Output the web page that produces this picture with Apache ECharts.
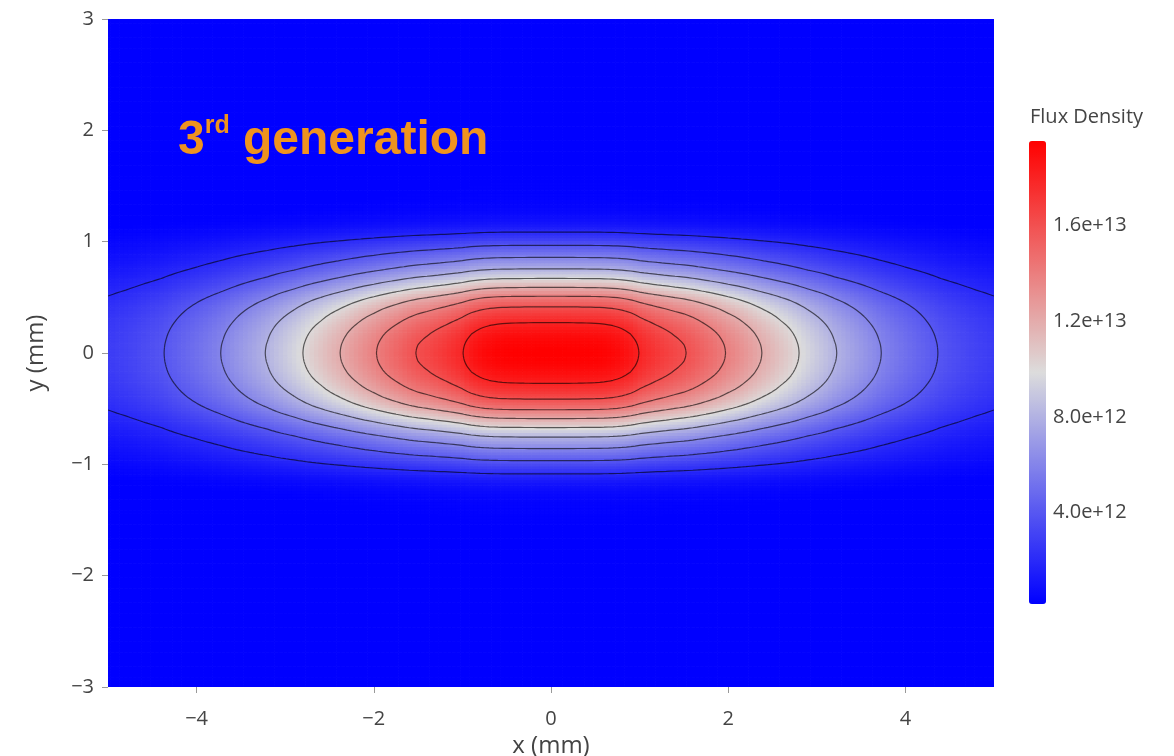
<!DOCTYPE html>
<html>
<head>
<meta charset="utf-8">
<script src="https://cdn.jsdelivr.net/npm/echarts@6/dist/echarts.min.js"></script>
<style>
  html, body { margin: 0; padding: 0; background: #ffffff; }
  #chart { width: 1174px; height: 756px; }
</style>
</head>
<body>
<div id="chart"></div>
<script>
// Flux density in the observation plane (units of 1e12).
// Horizontal cut through y = 0, for x = 0.00 ... 5.00 mm in 0.05 mm steps (symmetric about x = 0).
const fluxAlongX = [
  19.54, 19.54, 19.54, 19.535, 19.53, 19.525, 19.52, 19.51, 19.50, 19.48,
  19.46, 19.43, 19.38, 19.31, 19.22, 19.10, 18.95, 18.76, 18.55, 18.27,
  17.95, 17.71, 17.50, 17.30, 17.10, 16.92, 16.75, 16.57, 16.40, 16.25,
  16.10, 15.90, 15.70, 15.48, 15.25, 15.03, 14.80, 14.58, 14.35, 14.10,
  13.85, 13.63, 13.40, 13.15, 12.90, 12.65, 12.40, 12.15, 11.90, 11.68,
  11.45, 11.20, 10.95, 10.73, 10.50, 10.25, 10.00, 9.75, 9.50, 9.28,
  9.05, 8.83, 8.60, 8.35, 8.10, 7.90, 7.70, 7.50, 7.30, 7.10,
  6.90, 6.70, 6.50, 6.30, 6.10, 5.92, 5.75, 5.58, 5.42, 5.26,
  5.10, 4.95, 4.80, 4.65, 4.50, 4.35, 4.20, 4.05, 3.90, 3.79,
  3.68, 3.58, 3.48, 3.38, 3.28, 3.19, 3.10, 3.02, 2.95, 2.87,
  2.80
];
// Relative vertical profile, for y = 0.000 ... 3.000 mm in 0.025 mm steps (symmetric about y = 0).
const shapeAlongY = [
  1.000, 0.999, 0.997, 0.994, 0.989, 0.983, 0.976, 0.968, 0.958, 0.947,
  0.934, 0.920, 0.905, 0.889, 0.871, 0.852, 0.832, 0.809, 0.785, 0.758,
  0.729, 0.697, 0.665, 0.632, 0.600, 0.568, 0.536, 0.505, 0.475, 0.445,
  0.415, 0.389, 0.364, 0.339, 0.315, 0.291, 0.267, 0.243, 0.220, 0.197,
  0.174, 0.151, 0.130, 0.110, 0.092, 0.076, 0.063, 0.052, 0.043, 0.036,
  0.030, 0.026, 0.022, 0.019, 0.017, 0.015, 0.014, 0.013, 0.012, 0.0115,
  0.0110, 0.0105, 0.0100, 0.0097, 0.0095, 0.0092, 0.0090, 0.0088, 0.0086, 0.0084,
  0.0082, 0.0080, 0.0079, 0.0077, 0.0076, 0.0074, 0.0073, 0.0072, 0.0071, 0.0070,
  0.0069, 0.0068, 0.0067, 0.0066, 0.0065, 0.0064, 0.0063, 0.0063, 0.0062, 0.0061,
  0.0060, 0.0060, 0.0059, 0.0059, 0.0058, 0.0058, 0.0057, 0.0057, 0.0056, 0.0056,
  0.0055, 0.0055, 0.0054, 0.0054, 0.0053, 0.0053, 0.0052, 0.0052, 0.0051, 0.0051,
  0.0050, 0.0050, 0.0049, 0.0049, 0.0048, 0.0048, 0.0047, 0.0047, 0.0046, 0.0046,
  0.0045
];
const xStep = 0.05;
const yStep = 0.025;
const contourLevels = [2, 4, 6, 8, 10, 12, 14, 16, 18];   // x 1e12
const colorbarTicks = [4, 8, 12, 16];                     // x 1e12
const colorRange = [0.18, 19.54];                         // x 1e12
const xTicks = [-4, -2, 0, 2, 4];
const xRange = [-5, 5];
const yRange = [-3, 3];
const SCALE = 1e12;

// Full grid from the two symmetric cuts
const xs = [], fx = [];
for (let i = 0; i < fluxAlongX.length * 2 - 1; i++) {
  const k = i - (fluxAlongX.length - 1);
  xs.push(+(k * xStep).toFixed(3));
  fx.push(fluxAlongX[Math.abs(k)]);
}
const ys = [], fy = [];
for (let j = 0; j < shapeAlongY.length * 2 - 1; j++) {
  const k = j - (shapeAlongY.length - 1);
  ys.push(+(k * yStep).toFixed(3));
  fy.push(shapeAlongY[Math.abs(k)]);
}
const field = ys.map((_, j) => xs.map((_, i) => fx[i] * fy[j] * SCALE));
const cells = [];
for (let j = 0; j < ys.length; j++) {
  for (let i = 0; i < xs.length; i++) {
    cells.push([xs[i], ys[j], field[j][i]]);
  }
}

// Marching squares: line segments of one iso-level, in data coordinates
function isoSegments(level) {
  const segs = [];
  const lerp = (a, b, va, vb) => a + (b - a) * (level - va) / (vb - va);
  for (let j = 0; j < ys.length - 1; j++) {
    for (let i = 0; i < xs.length - 1; i++) {
      const v0 = field[j][i], v1 = field[j][i + 1], v2 = field[j + 1][i + 1], v3 = field[j + 1][i];
      const x0 = xs[i], x1 = xs[i + 1], y0 = ys[j], y1 = ys[j + 1];
      const pts = [];
      if ((v0 < level) !== (v1 < level)) pts.push([lerp(x0, x1, v0, v1), y0]);
      if ((v1 < level) !== (v2 < level)) pts.push([x1, lerp(y0, y1, v1, v2)]);
      if ((v2 < level) !== (v3 < level)) pts.push([lerp(x1, x0, v2, v3), y1]);
      if ((v3 < level) !== (v0 < level)) pts.push([x0, lerp(y1, y0, v3, v0)]);
      if (pts.length === 2) {
        segs.push([pts[0][0], pts[0][1], pts[1][0], pts[1][1]]);
      } else if (pts.length === 4) {
        segs.push([pts[0][0], pts[0][1], pts[3][0], pts[3][1]]);
        segs.push([pts[1][0], pts[1][1], pts[2][0], pts[2][1]]);
      }
    }
  }
  return segs;
}
const contourSegs = contourLevels.map(l => isoSegments(l * SCALE));

const minus = v => String(v).replace('-', '\u2212');
const tickFont = { fontFamily: 'Open Sans', fontSize: 20, color: '#444' };
const titleFont = { fontFamily: 'Open Sans', fontSize: 24, color: '#444' };
const orange = '#ef931f';
const hiddenLine = { show: true, onZero: false, lineStyle: { color: 'rgba(0,0,0,0)', width: 0 } };
const tickStyle = { show: true, inside: false, length: 6, lineStyle: { color: '#999', width: 1 } };

const chart = echarts.init(document.getElementById('chart'), null, { renderer: 'canvas' });
chart.setOption({
  animation: false,
  backgroundColor: '#ffffff',
  title: [
    {
      text: '{n|3}{s|rd}{n| generation}',
      left: 178, top: 114, padding: 0,
      textStyle: {
        rich: {
          n: { fontFamily: 'Liberation Sans', fontWeight: 'bold', fontSize: 48, lineHeight: 53, color: orange },
          s: { fontFamily: 'Liberation Sans', fontWeight: 'bold', fontSize: 25, lineHeight: 31, verticalAlign: 'top', color: orange }
        }
      }
    },
    {
      text: 'Flux Density',
      left: 1030, top: 107, padding: 0,
      textStyle: { fontFamily: 'Open Sans', fontWeight: 'normal', fontSize: 20, color: '#444' }
    }
  ],
  grid: [
    { left: 108, right: 180, top: 19, bottom: 69, containLabel: false, outerBoundsMode: 'none' },
    { left: 1029, width: 17, top: 141, height: 463, containLabel: false, outerBoundsMode: 'none' }
  ],
  xAxis: [
    {
      gridIndex: 0, type: 'value', min: xRange[0], max: xRange[1],
      axisLine: hiddenLine, splitLine: { show: false },
      axisTick: { ...tickStyle, customValues: xTicks },
      axisLabel: { customValues: xTicks, formatter: minus, margin: 22, ...tickFont },
      name: 'x (mm)', nameLocation: 'middle', nameGap: 42, nameTextStyle: titleFont
    },
    { gridIndex: 1, type: 'value', min: 0, max: 1, show: false }
  ],
  yAxis: [
    {
      gridIndex: 0, type: 'value', min: yRange[0], max: yRange[1], interval: 1,
      axisLine: hiddenLine, splitLine: { show: false },
      axisTick: tickStyle,
      axisLabel: { formatter: minus, margin: 14, ...tickFont },
      name: 'y (mm)', nameLocation: 'middle', nameGap: 60, nameRotate: 90, nameTextStyle: titleFont
    },
    {
      gridIndex: 1, type: 'value', position: 'right',
      min: colorRange[0] * SCALE, max: colorRange[1] * SCALE,
      axisLine: { show: false }, splitLine: { show: false }, axisTick: { show: false },
      axisLabel: {
        customValues: colorbarTicks.map(v => v * SCALE),
        formatter: v => v.toExponential(1), margin: 7, ...tickFont
      }
    }
  ],
  visualMap: {
    type: 'continuous', seriesIndex: 0, dimension: 2,
    min: colorRange[0] * SCALE, max: colorRange[1] * SCALE,
    inRange: { color: ['#0000ff', '#dcdcdc', '#ff0000'] },
    calculable: false, hoverLink: false, show: true,
    orient: 'vertical', left: 1029, top: 141, itemWidth: 17, itemHeight: 463,
    padding: 0, text: null, textStyle: { color: 'transparent' }
  },
  series: [
    {
      // colour cells
      type: 'custom', xAxisIndex: 0, yAxisIndex: 0, clip: true, silent: true,
      progressive: 0, progressiveThreshold: 1e9, large: false,
      dimensions: ['x', 'y', 'flux'], encode: { x: 0, y: 1 },
      data: cells,
      renderItem: function (params, api) {
        const x = api.value(0), y = api.value(1);
        const xa = Math.max(x - xStep / 2, xRange[0]), xb = Math.min(x + xStep / 2, xRange[1]);
        const ya = Math.max(y - yStep / 2, yRange[0]), yb = Math.min(y + yStep / 2, yRange[1]);
        const p0 = api.coord([xa, yb]), p1 = api.coord([xb, ya]);
        return {
          type: 'rect',
          shape: { x: p0[0], y: p0[1], width: p1[0] - p0[0] + 0.7, height: p1[1] - p0[1] + 0.7 },
          style: { fill: api.visual('color') }
        };
      }
    },
    {
      // contour lines
      type: 'custom', xAxisIndex: 0, yAxisIndex: 0, clip: true, silent: true,
      data: contourSegs.map((_, k) => [0, 0, k]),
      renderItem: function (params, api) {
        const segs = contourSegs[params.dataIndex];
        let d = '';
        for (const s of segs) {
          const a = api.coord([s[0], s[1]]), b = api.coord([s[2], s[3]]);
          d += 'M' + a[0].toFixed(2) + ' ' + a[1].toFixed(2) + 'L' + b[0].toFixed(2) + ' ' + b[1].toFixed(2);
        }
        return {
          type: 'path', shape: { pathData: d },
          style: { stroke: 'rgba(0,0,0,0.6)', lineWidth: 1.2, fill: 'none' }
        };
      }
    },
    {
      // contour levels marked on the colour bar
      type: 'custom', xAxisIndex: 1, yAxisIndex: 1, silent: true,
      data: contourLevels.map(l => [0, l * SCALE]),
      renderItem: function (params, api) {
        const a = api.coord([0, api.value(1)]), b = api.coord([1, api.value(1)]);
        return {
          type: 'line', shape: { x1: a[0], y1: a[1], x2: b[0], y2: b[1] },
          style: { stroke: 'rgba(0,0,0,0.45)', lineWidth: 1 }
        };
      }
    }
  ]
});
</script>
</body>
</html>
